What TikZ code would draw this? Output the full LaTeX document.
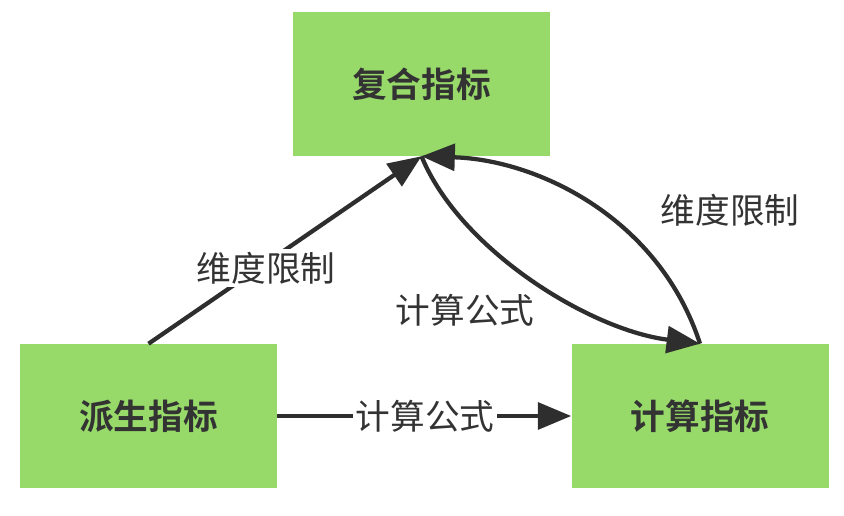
\documentclass[tikz,border=0pt]{standalone}
\usepackage{fontspec}
\setmainfont{Noto Sans CJK SC}
\newfontfamily\cjkbold{Noto Sans CJK SC Bold}
\usetikzlibrary{arrows.meta}
\definecolor{boxgreen}{HTML}{97DA6A}
\definecolor{ink}{HTML}{2E2E2E}
\definecolor{txt}{HTML}{333333}
\tikzset{
  box/.style={fill=boxgreen, draw=none, minimum width=192.75pt, minimum height=108pt, inner sep=0pt, font=\cjkbold\fontsize{26}{30}\selectfont, text=txt},
  conn/.style={draw=ink, line width=3.2pt, -{Triangle[length=25pt,width=20pt]}},
  lbl/.style={font=\fontsize{26}{30}\selectfont, text=txt, inner sep=2pt},
}
\begin{document}
\begin{tikzpicture}[x=0.75pt,y=-0.75pt]
\useasboundingbox (0,0) rectangle (844,516);
\node[box] (T) at (421.5,84) {复合指标};
\node[box] (L) at (148.5,416) {派生指标};
\node[box] (R) at (700,416) {计算指标};
\draw[conn] (L.north) -- (T.south);
\node[lbl, fill=white] (l1) at (266,268) {维度限制};
\draw[conn] (L.east) -- (R.west);
\node[lbl, fill=white] (l2) at (425,416) {计算公式};
\draw[conn] (T.south) .. controls (460,250) and (590,330) .. (R.north);
\draw[conn] (R.north) .. controls (660,220) and (540,160) .. (T.south);
\node[lbl] (l3) at (465,310) {计算公式};
\node[lbl] (l4) at (730,210) {维度限制};
\end{tikzpicture}
\end{document}
